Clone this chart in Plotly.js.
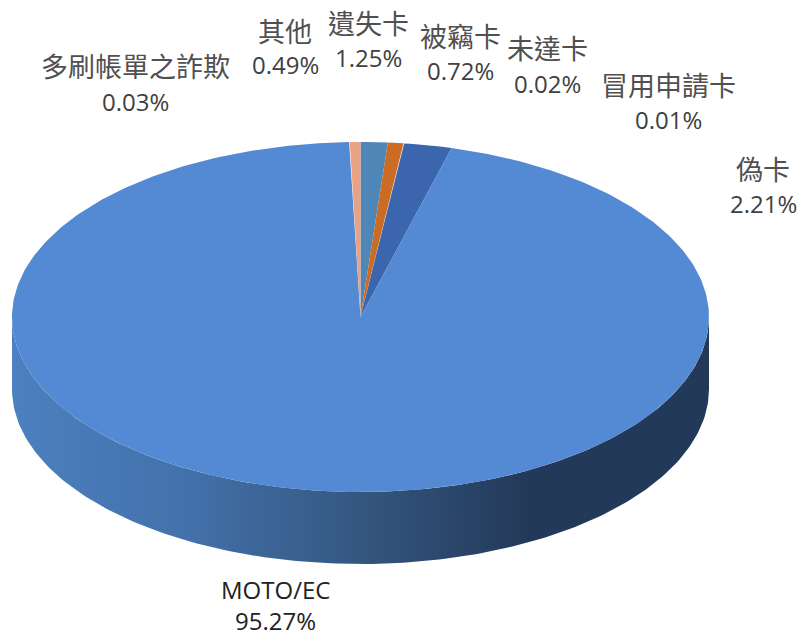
<!DOCTYPE html>
<html>
<head>
<meta charset="utf-8">
<script src="https://cdn.plot.ly/plotly-3.0.1.min.js"></script>
<style>html,body{margin:0;padding:0;background:#fff}#chart{width:802px;height:639px}</style>
</head>
<body>
<div id="chart"></div>
<script>
// Data, clockwise from 12 o'clock
const categories = ['遺失卡','被竊卡','未達卡','冒用申請卡','偽卡','MOTO/EC','多刷帳單之詐欺','其他'];
const shares = [1.25,0.72,0.02,0.01,2.21,95.27,0.03,0.49];
const sliceColors = ['#4e86b8','#cb6c25','#a5a5a5','#e0b040','#3b65ad','#5489d3','#6f9bd8','#e8a285'];

// Geometry and styling of the tilted pie
const CX=360.5, CY=317, RX=348.5, RY=175, DEPTH=72;
const rimStops = [[0,'#4c80bf'],[0.25,'#4371ab'],[0.5,'#34577f'],[0.74,'#233959'],[1,'#233959']];
const labelX = [368,460,547,668,763,275,135,285];
const nameY  = [22,35,47,84,168,589,65,30];
const valueY = [57,70,83,119,203,620,101,64];

const total = shares.reduce((a,b)=>a+b,0);
const pt = (deg,dy)=>{const r=deg*Math.PI/180;return [CX+RX*Math.sin(r),CY-RY*Math.cos(r)+(dy||0)];};

const traces=[];
// front rim of the pie, which belongs to the big slice
const rx=[],ry=[];
for(let a=270;a>=90;a-=1){const p=pt(a);rx.push(p[0]);ry.push(p[1]);}
for(let a=90;a<=270;a+=1){const p=pt(a,DEPTH);rx.push(p[0]);ry.push(p[1]);}
rx.push(rx[0]);ry.push(ry[0]);
traces.push({type:'scatter',mode:'lines',x:rx,y:ry,fill:'toself',line:{width:0},
  fillgradient:{type:'horizontal',colorscale:rimStops},hoverinfo:'skip',showlegend:false});

// top face slices
let cum=0;
categories.forEach((name,i)=>{
  const a0=cum/total*360, a1=(cum+shares[i])/total*360; cum+=shares[i];
  const xs=[CX],ys=[CY];
  const n=Math.max(2,Math.ceil(a1-a0));
  for(let k=0;k<=n;k++){const p=pt(a0+(a1-a0)*k/n);xs.push(p[0]);ys.push(p[1]);}
  xs.push(CX);ys.push(CY);
  traces.push({type:'scatter',mode:'lines',x:xs,y:ys,fill:'toself',fillcolor:sliceColors[i],
    line:{width:0},name:name,text:name+' '+shares[i].toFixed(2)+'%',hoverinfo:'text',showlegend:false});
});

const CJK='"Noto Sans CJK TC","Noto Sans",sans-serif', LATIN='"Open Sans","Noto Sans",sans-serif';
const annotations=[];
categories.forEach((name,i)=>{
  const latin=/^[A-Z]/.test(name);
  annotations.push({x:labelX[i],y:nameY[i],xref:'x',yref:'y',text:name,showarrow:false,
    xanchor:'center',yanchor:'middle',font:{family:latin?LATIN:CJK,size:latin?24:27,color:latin?'#222222':'#505050'}});
  annotations.push({x:labelX[i],y:valueY[i],xref:'x',yref:'y',text:shares[i].toFixed(2)+'%',showarrow:false,
    xanchor:'center',yanchor:'middle',font:{family:LATIN,size:24,color:latin?'#222222':'#404040'}});
});

Plotly.newPlot('chart',traces,{
  width:802,height:639,margin:{l:0,r:0,t:0,b:0},
  paper_bgcolor:'#ffffff',plot_bgcolor:'#ffffff',showlegend:false,
  xaxis:{range:[0,802],visible:false,fixedrange:true},
  yaxis:{range:[639,0],visible:false,fixedrange:true},
  annotations:annotations
},{displayModeBar:false});
</script>
</body>
</html>
